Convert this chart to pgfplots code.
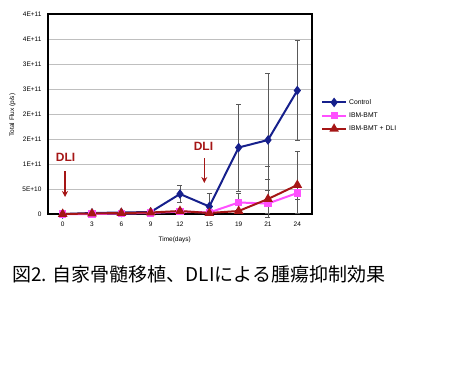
\documentclass[border=0pt]{standalone}
\usepackage{pgfplots}
\pgfplotsset{compat=1.18}
\usepackage{fontspec}
\setmainfont{Liberation Sans}
\newfontfamily\cjk{Noto Sans CJK JP}
\usetikzlibrary{arrows.meta}
\definecolor{ctrl}{RGB}{22,32,140}
\definecolor{ibm}{RGB}{255,80,255}
\definecolor{dli}{RGB}{165,22,22}
\begin{document}
\begin{tikzpicture}
\useasboundingbox (0pt,0pt) rectangle (452pt,-378pt);
\begin{axis}[
  at={(48pt,-214pt)}, anchor=south west,
  scale only axis, width=264pt, height=200pt,
  xmin=-0.5, xmax=8.5, ymin=0, ymax=4,
  xtick={0,...,8}, xticklabels={0,3,6,9,12,15,19,21,24},
  ytick={0,0.5,1,1.5,2,2.5,3,3.5,4},
  yticklabels={0,5E+10,1E+11,2E+11,2E+11,3E+11,3E+11,4E+11,4E+11},
  major tick length=0pt,
  ymajorgrids, grid style={black!25, line width=0.6pt},
  axis line style={line width=1.3pt},
  tick label style={font=\fontsize{6.5}{7}\selectfont},
  xticklabel style={yshift=-4.5pt},
  yticklabel style={xshift=-3pt},
  xlabel={Time(days)}, ylabel={Total Flux (p/s)},
  label style={font=\fontsize{6.5}{7}\selectfont},
  xlabel style={at={(axis description cs:0.48,-0.13)}, anchor=center},
  ylabel style={at={(axis description cs:-0.135,0.495)}, anchor=center},
  clip=false,
  legend style={at={(1.03,0.59)}, anchor=north west, draw=none, fill=none,
    font=\fontsize{6.8}{7}\selectfont, row sep=3pt, inner sep=1pt},
  legend cell align=left,
  legend image code/.code={\draw[mark repeat=2,mark phase=2] plot coordinates {(0pt,0pt) (12pt,0pt) (24pt,0pt)};},
  error bars/error bar style={line width=0.6pt, black!65},
  error bars/error mark options={rotate=90, mark size=2.5pt, line width=0.6pt, black!65},
]
\addplot[ctrl, line width=2pt, mark=diamond*, mark size=3.2pt,
  error bars/.cd, y dir=both, y explicit]
coordinates {
 (0,0.00) +- (0,0)
 (1,0.02) +- (0,0)
 (2,0.03) +- (0,0)
 (3,0.04) +- (0,0.01)
 (4,0.40) += (0,0.18) -= (0,0.17)
 (5,0.15) += (0,0.27) -= (0,0.15)
 (6,1.33) += (0,0.87) -= (0,0.87)
 (7,1.48) += (0,1.33) -= (0,0.79)
 (8,2.47) += (0,1.01) -= (0,1.00)
};
\addlegendentry{Control}
\addplot[ibm, line width=2pt, mark=square*, mark size=2.6pt,
  error bars/.cd, y dir=both, y explicit]
coordinates {
 (0,0.00) +- (0,0)
 (1,0.00) +- (0,0)
 (2,0.01) +- (0,0)
 (3,0.02) +- (0,0)
 (4,0.05) +- (0,0)
 (5,0.03) +- (0,0)
 (6,0.23) +- (0,0.18)
 (7,0.21) +- (0,0.27)
 (8,0.42) +- (0,0.12)
};
\addlegendentry{IBM-BMT}
\addplot[dli, line width=2pt, mark=triangle*, mark size=3.6pt,
  error bars/.cd, y dir=both, y explicit]
coordinates {
 (0,0.00) +- (0,0)
 (1,0.01) +- (0,0)
 (2,0.02) +- (0,0)
 (3,0.03) +- (0,0)
 (4,0.06) +- (0,0)
 (5,0.02) +- (0,0)
 (6,0.06) +- (0,0.03)
 (7,0.30) += (0,0.65) -= (0,0.29)
 (8,0.58) += (0,0.68) -= (0,0.57)
};
\addlegendentry{IBM-BMT + DLI}
\node[text=dli, font=\bfseries\fontsize{12}{12}\selectfont] at (axis cs:0.1,1.14) {DLI};
\draw[dli, line width=1.6pt, -{Stealth[length=6pt,width=6pt]}] (axis cs:0.08,0.86) -- (axis cs:0.08,0.34);
\node[text=dli, font=\bfseries\fontsize{12}{12}\selectfont] at (axis cs:4.8,1.35) {DLI};
\draw[dli, line width=1.6pt, -{Stealth[length=6pt,width=6pt]}] (axis cs:4.83,1.12) -- (axis cs:4.83,0.62);
\end{axis}
\node[anchor=west, inner sep=0pt, font=\cjk\fontsize{19}{19}\selectfont] at (12pt,-274pt) {図2. 自家骨髄移植、DLIによる腫瘍抑制効果};
\end{tikzpicture}
\end{document}
